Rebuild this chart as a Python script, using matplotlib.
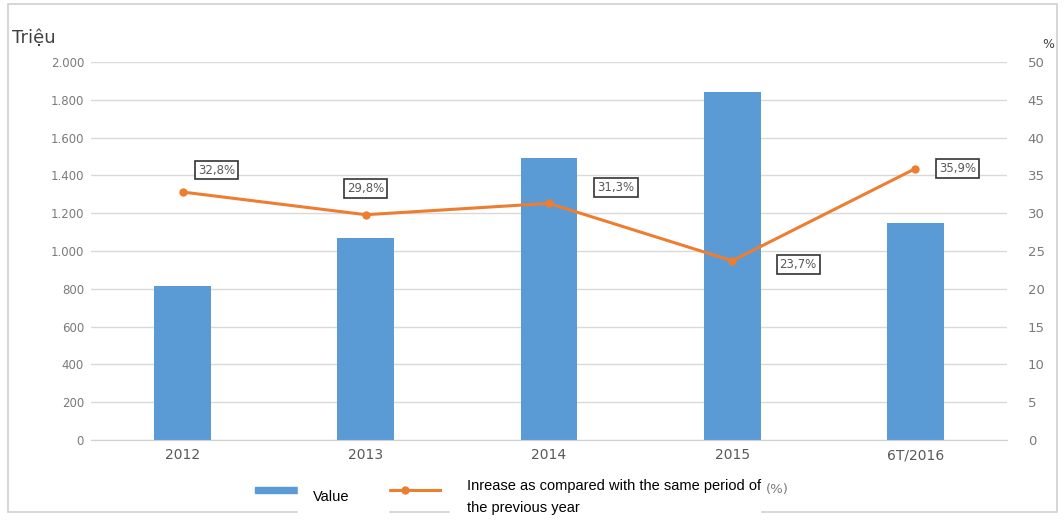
import matplotlib.pyplot as plt
from matplotlib.patches import Rectangle
from matplotlib.lines import Line2D

categories = ['2012', '2013', '2014', '2015', '6T/2016']
value = [816, 1068, 1490, 1842, 1147]
increase = [32.8, 29.8, 31.3, 23.7, 35.9]
left_ticks = [0, 200, 400, 600, 800, 1000, 1200, 1400, 1600, 1800, 2000]
right_ticks = [0, 5, 10, 15, 20, 25, 30, 35, 40, 45, 50]
label_offsets = [(34, 22), (0, 26), (67, 16), (66, -4), (42, 0)]

blue = '#5B9BD5'
orange = '#ED7D31'
grey = '#7a7a7a'

fig = plt.figure(figsize=(10.64, 5.27), dpi=100)
W, H = 1064, 527

# light frame around the whole chart
fig.patches.append(Rectangle((8 / W, 1 - 512 / H), 1049 / W, 508 / H,
                             transform=fig.transFigure, fill=False,
                             edgecolor='#d0d0d0', linewidth=1.2))

ax = fig.add_axes([91 / W, 1 - 440 / H, 916 / W, 378 / H])
x = range(len(categories))
ax.bar(x, value, width=0.31, color=blue, zorder=2)
ax.set_xlim(-0.5, len(categories) - 0.5)
ax.set_ylim(0, 2000)
ax.set_yticks(left_ticks)
ax.set_yticklabels(['{:,}'.format(v).replace(',', '.') for v in left_ticks])
ax.set_xticks(list(x))
ax.set_xticklabels(categories)
ax.grid(axis='y', color='#d9d9d9', linewidth=1, zorder=0)
for s in ['top', 'left', 'right']:
    ax.spines[s].set_visible(False)
ax.spines['bottom'].set_color('#d0d0d0')
ax.tick_params(axis='y', length=0, labelsize=8.5, labelcolor=grey, pad=5)
ax.tick_params(axis='x', length=0, labelsize=10, labelcolor='#595959', pad=6)

ax2 = ax.twinx()
ax2.plot(x, increase, color=orange, linewidth=2.2, marker='o', markersize=5, zorder=3)
ax2.set_ylim(0, 50)
ax2.set_yticks(right_ticks)
for s in ['top', 'left', 'right', 'bottom']:
    ax2.spines[s].set_visible(False)
ax2.tick_params(axis='y', length=0, labelsize=9.5, labelcolor=grey, pad=15)

for i, v in enumerate(increase):
    ax2.annotate('{:.1f}%'.format(v).replace('.', ','), (i, v),
                 xytext=label_offsets[i], textcoords='offset pixels',
                 ha='center', va='center', fontsize=8.5, color='#595959',
                 bbox=dict(boxstyle='square,pad=0.25', facecolor='white',
                           edgecolor='#333333', linewidth=1.2))

fig.text(12 / W, 1 - 38 / H, 'Triệu', fontsize=13, color='#404040', va='center')
fig.text(1042 / W, 1 - 44 / H, '%', fontsize=9, color='#404040', va='center')

# legend drawn by hand
fig.patches.append(Rectangle((255 / W, 1 - 493 / H), 45 / W, 6 / H,
                             transform=fig.transFigure, color=blue))
fig.lines.append(Line2D([370 / W, 440 / W], [1 - 490 / H, 1 - 490 / H],
                        transform=fig.transFigure, color=orange, linewidth=2.2))
fig.lines.append(Line2D([405 / W], [1 - 490 / H], transform=fig.transFigure,
                        color=orange, marker='o', markersize=5))
fig.patches.append(Rectangle((298 / W, 1 - 527 / H), 90 / W, 55 / H,
                             transform=fig.transFigure, color='white', zorder=5))
fig.patches.append(Rectangle((450 / W, 1 - 527 / H), 310 / W, 60 / H,
                             transform=fig.transFigure, color='white', zorder=5))
fig.text(313 / W, 1 - 497 / H, 'Value', fontsize=10.5, color='black',
         family='Liberation Sans', va='center', zorder=6)
fig.text(467 / W, 1 - 486 / H, 'Inrease as compared with the same period of',
         fontsize=10.5, color='black', family='Liberation Sans', va='center', zorder=6)
fig.text(467 / W, 1 - 508 / H, 'the previous year',
         fontsize=10.5, color='black', family='Liberation Sans', va='center', zorder=6)
fig.text(766 / W, 1 - 490 / H, '(%)', fontsize=9.5, color=grey, va='center')

fig.savefig('out.png', dpi=100)
